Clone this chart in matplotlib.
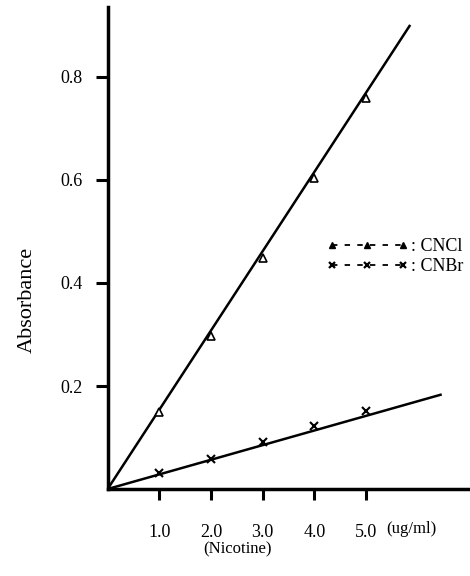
import numpy as np
import matplotlib.pyplot as plt
from matplotlib.lines import Line2D

plt.rcParams['font.family'] = ['Liberation Serif', 'DejaVu Serif']

# concentration of nicotine (ug/ml)
conc = [1.0, 2.0, 3.0, 4.0, 5.0]
cncl = [0.15, 0.297, 0.449, 0.604, 0.759]
cnbr = [0.031, 0.058, 0.091, 0.122, 0.151]

# fitted lines (start at origin, end where drawn in the figure)
cncl_fit_x = [0.0, 5.84]
cncl_fit_y = [0.0, 0.899]
cnbr_fit_x = [0.0, 6.44]
cnbr_fit_y = [0.0, 0.183]

xticks = [1.0, 2.0, 3.0, 4.0, 5.0]
xlabels = ['1.0', '2.0', '3.0', '4.0', '5.0']
yticks = [0.2, 0.4, 0.6, 0.8]
ylabels = ['0.2', '0.4', '0.6', '0.8']

fig = plt.figure(figsize=(4.7, 5.76), dpi=100)
ax = fig.add_axes([0.229, 0.151, 0.771, 0.837])

ax.plot(cncl_fit_x, cncl_fit_y, color='black', linewidth=1.8)
ax.plot(cnbr_fit_x, cnbr_fit_y, color='black', linewidth=1.8)
ax.plot(conc, cncl, linestyle='none', marker='^', markersize=6,
        markerfacecolor='white', markeredgecolor='black', markeredgewidth=1.2)
ax.plot(conc, cnbr, linestyle='none', marker='x', markersize=6,
        color='black', markeredgewidth=1.5)

ax.set_xlim(0, 7.01)
ax.set_ylim(0, 0.936)

ax.spines['top'].set_visible(False)
ax.spines['right'].set_visible(False)
ax.spines['left'].set_linewidth(2.5)
ax.spines['bottom'].set_linewidth(2.5)

ax.set_xticks(xticks)
ax.set_xticklabels(xlabels)
ax.set_yticks(yticks)
ax.set_yticklabels(ylabels)
ax.tick_params(axis='x', direction='out', length=8, width=2.2, pad=17, labelsize=13)
ax.tick_params(axis='y', direction='out', length=9, width=2.2, pad=9, labelsize=13)

ax.set_ylabel('Absorbance', fontsize=16)
ax.yaxis.set_label_coords(-0.195, 0.392)
ax.text(5.88, -0.078, '(ug/ml)', fontsize=12, ha='center', va='center',
        transform=ax.transData, clip_on=False)
fig.text(0.505, 0.046, '(Nicotine)', fontsize=12, ha='center', va='center')

h1 = Line2D([], [], color='black', linestyle=(0, (3, 4)), linewidth=1.3,
            marker='^', markersize=5, markerfacecolor='black')
h2 = Line2D([], [], color='black', linestyle=(0, (3, 4)), linewidth=1.3,
            marker='x', markersize=5, markeredgewidth=1.6)
ax.legend([h1, h2], [': CNCl', ': CNBr'], loc='center left',
          bbox_to_anchor=(0.56, 0.482), frameon=False, numpoints=3,
          handlelength=4.5, handletextpad=0.15, fontsize=13, labelspacing=0.2)

fig.savefig('out.png', dpi=100)
